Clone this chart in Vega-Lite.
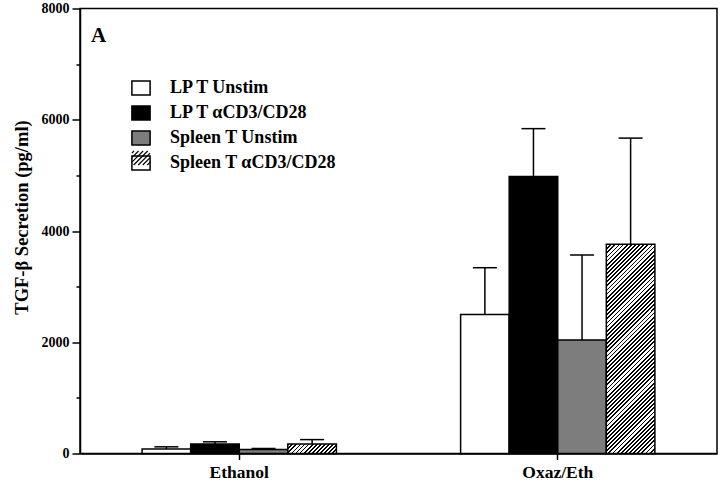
{
  "$schema": "https://vega.github.io/schema/vega-lite/v6.json",
  "width": 637,
  "height": 445,
  "autosize": {"type": "none"},
  "padding": {"left": 80, "top": 8.5, "right": 3, "bottom": 30.5},
  "background": "white",
  "title": {"text": "A", "anchor": "start", "frame": "group", "font": "Liberation Serif", "fontSize": 21, "fontWeight": "bold", "color": "black", "offset": -61, "baseline": "alphabetic", "dx": 11},
  "data": {"values": [
    {"group": "Ethanol", "cell": "LP T Unstim", "value": 80, "upper": 120},
    {"group": "Ethanol", "cell": "LP T αCD3/CD28", "value": 170, "upper": 210},
    {"group": "Ethanol", "cell": "Spleen T Unstim", "value": 70, "upper": 90},
    {"group": "Ethanol", "cell": "Spleen T αCD3/CD28", "value": 170, "upper": 250},
    {"group": "Oxaz/Eth", "cell": "LP T Unstim", "value": 2500, "upper": 3340},
    {"group": "Oxaz/Eth", "cell": "LP T αCD3/CD28", "value": 4980, "upper": 5840},
    {"group": "Oxaz/Eth", "cell": "Spleen T Unstim", "value": 2040, "upper": 3570},
    {"group": "Oxaz/Eth", "cell": "Spleen T αCD3/CD28", "value": 3760, "upper": 5670}
  ]},
  "encoding": {
    "x": {"field": "group", "type": "nominal", "sort": ["Ethanol", "Oxaz/Eth"],
      "scale": {"paddingInner": 0.39, "paddingOuter": 0.195},
      "axis": {"title": null, "labelAngle": 0, "tickSize": 6, "labelPadding": 4, "labelFontSize": 17.5}},
    "xOffset": {"field": "cell", "type": "nominal", "sort": ["LP T Unstim", "LP T αCD3/CD28", "Spleen T Unstim", "Spleen T αCD3/CD28"], "scale": {"paddingInner": 0, "paddingOuter": 0}}
  },
  "layer": [
    {
      "mark": {"type": "bar", "stroke": "black", "strokeWidth": 1.5},
      "encoding": {
        "y": {"field": "value", "type": "quantitative",
          "scale": {"domain": [0, 8000], "nice": false},
          "axis": {"title": "TGF-β Secretion (pg/ml)", "values": [0, 1000, 2000, 3000, 4000, 5000, 6000, 7000, 8000],
            "labelExpr": "datum.value % 2000 == 0 ? format(datum.value, 'd') : ''",
            "tickSize": {"condition": {"test": "datum.value % 2000 == 0", "value": 8}, "value": 4},
            "labelPadding": 3, "labelFontSize": 14, "grid": false,
            "titleX": -59, "titleY": 208.5, "titleAlign": "center", "titleBaseline": "middle", "titleAngle": -90,
            "titleFont": "Liberation Serif", "titleFontSize": 18.5, "titleFontWeight": "bold", "titleColor": "black"}},
        "fill": {
          "field": "cell", "type": "nominal",
          "scale": {"domain": ["LP T Unstim", "LP T αCD3/CD28", "Spleen T Unstim", "Spleen T αCD3/CD28"], "range": ["#ffffff", "#000000", "#7d7d7d", "#ffffff"]},
          "condition": [
            {"test": "datum.cell === 'Spleen T αCD3/CD28' && datum.group === 'Oxaz/Eth'",
             "value": {"gradient": "linear", "x1": 0, "y1": 0, "x2": 0.2716, "y2": 1.1692, "stops": [
{"offset":0,"color":"#000"},{"offset":0.007,"color":"#000"},{"offset":0.007,"color":"#fff"},{"offset":0.016,"color":"#fff"},
{"offset":0.016,"color":"#000"},{"offset":0.023,"color":"#000"},{"offset":0.023,"color":"#fff"},{"offset":0.032,"color":"#fff"},
{"offset":0.032,"color":"#000"},{"offset":0.039,"color":"#000"},{"offset":0.039,"color":"#fff"},{"offset":0.048,"color":"#fff"},
{"offset":0.048,"color":"#000"},{"offset":0.055,"color":"#000"},{"offset":0.055,"color":"#fff"},{"offset":0.064,"color":"#fff"},
{"offset":0.064,"color":"#000"},{"offset":0.071,"color":"#000"},{"offset":0.071,"color":"#fff"},{"offset":0.08,"color":"#fff"},
{"offset":0.08,"color":"#000"},{"offset":0.087,"color":"#000"},{"offset":0.087,"color":"#fff"},{"offset":0.096,"color":"#fff"},
{"offset":0.096,"color":"#000"},{"offset":0.103,"color":"#000"},{"offset":0.103,"color":"#fff"},{"offset":0.112,"color":"#fff"},
{"offset":0.112,"color":"#000"},{"offset":0.119,"color":"#000"},{"offset":0.119,"color":"#fff"},{"offset":0.128,"color":"#fff"},
{"offset":0.128,"color":"#000"},{"offset":0.135,"color":"#000"},{"offset":0.135,"color":"#fff"},{"offset":0.144,"color":"#fff"},
{"offset":0.144,"color":"#000"},{"offset":0.151,"color":"#000"},{"offset":0.151,"color":"#fff"},{"offset":0.16,"color":"#fff"},
{"offset":0.16,"color":"#000"},{"offset":0.167,"color":"#000"},{"offset":0.167,"color":"#fff"},{"offset":0.176,"color":"#fff"},
{"offset":0.176,"color":"#000"},{"offset":0.183,"color":"#000"},{"offset":0.183,"color":"#fff"},{"offset":0.192,"color":"#fff"},
{"offset":0.192,"color":"#000"},{"offset":0.199,"color":"#000"},{"offset":0.199,"color":"#fff"},{"offset":0.208,"color":"#fff"},
{"offset":0.208,"color":"#000"},{"offset":0.215,"color":"#000"},{"offset":0.215,"color":"#fff"},{"offset":0.224,"color":"#fff"},
{"offset":0.224,"color":"#000"},{"offset":0.231,"color":"#000"},{"offset":0.231,"color":"#fff"},{"offset":0.24,"color":"#fff"},
{"offset":0.24,"color":"#000"},{"offset":0.247,"color":"#000"},{"offset":0.247,"color":"#fff"},{"offset":0.256,"color":"#fff"},
{"offset":0.256,"color":"#000"},{"offset":0.263,"color":"#000"},{"offset":0.263,"color":"#fff"},{"offset":0.272,"color":"#fff"},
{"offset":0.272,"color":"#000"},{"offset":0.279,"color":"#000"},{"offset":0.279,"color":"#fff"},{"offset":0.288,"color":"#fff"},
{"offset":0.288,"color":"#000"},{"offset":0.295,"color":"#000"},{"offset":0.295,"color":"#fff"},{"offset":0.304,"color":"#fff"},
{"offset":0.304,"color":"#000"},{"offset":0.311,"color":"#000"},{"offset":0.311,"color":"#fff"},{"offset":0.32,"color":"#fff"},
{"offset":0.32,"color":"#000"},{"offset":0.327,"color":"#000"},{"offset":0.327,"color":"#fff"},{"offset":0.336,"color":"#fff"},
{"offset":0.336,"color":"#000"},{"offset":0.343,"color":"#000"},{"offset":0.343,"color":"#fff"},{"offset":0.352,"color":"#fff"},
{"offset":0.352,"color":"#000"},{"offset":0.359,"color":"#000"},{"offset":0.359,"color":"#fff"},{"offset":0.368,"color":"#fff"},
{"offset":0.368,"color":"#000"},{"offset":0.375,"color":"#000"},{"offset":0.375,"color":"#fff"},{"offset":0.384,"color":"#fff"},
{"offset":0.384,"color":"#000"},{"offset":0.391,"color":"#000"},{"offset":0.391,"color":"#fff"},{"offset":0.4,"color":"#fff"},
{"offset":0.4,"color":"#000"},{"offset":0.407,"color":"#000"},{"offset":0.407,"color":"#fff"},{"offset":0.416,"color":"#fff"},
{"offset":0.416,"color":"#000"},{"offset":0.423,"color":"#000"},{"offset":0.423,"color":"#fff"},{"offset":0.432,"color":"#fff"},
{"offset":0.432,"color":"#000"},{"offset":0.439,"color":"#000"},{"offset":0.439,"color":"#fff"},{"offset":0.448,"color":"#fff"},
{"offset":0.448,"color":"#000"},{"offset":0.455,"color":"#000"},{"offset":0.455,"color":"#fff"},{"offset":0.464,"color":"#fff"},
{"offset":0.464,"color":"#000"},{"offset":0.471,"color":"#000"},{"offset":0.471,"color":"#fff"},{"offset":0.48,"color":"#fff"},
{"offset":0.48,"color":"#000"},{"offset":0.487,"color":"#000"},{"offset":0.487,"color":"#fff"},{"offset":0.496,"color":"#fff"},
{"offset":0.496,"color":"#000"},{"offset":0.503,"color":"#000"},{"offset":0.503,"color":"#fff"},{"offset":0.512,"color":"#fff"},
{"offset":0.512,"color":"#000"},{"offset":0.519,"color":"#000"},{"offset":0.519,"color":"#fff"},{"offset":0.528,"color":"#fff"},
{"offset":0.528,"color":"#000"},{"offset":0.535,"color":"#000"},{"offset":0.535,"color":"#fff"},{"offset":0.544,"color":"#fff"},
{"offset":0.544,"color":"#000"},{"offset":0.551,"color":"#000"},{"offset":0.551,"color":"#fff"},{"offset":0.56,"color":"#fff"},
{"offset":0.56,"color":"#000"},{"offset":0.567,"color":"#000"},{"offset":0.567,"color":"#fff"},{"offset":0.576,"color":"#fff"},
{"offset":0.576,"color":"#000"},{"offset":0.583,"color":"#000"},{"offset":0.583,"color":"#fff"},{"offset":0.592,"color":"#fff"},
{"offset":0.592,"color":"#000"},{"offset":0.599,"color":"#000"},{"offset":0.599,"color":"#fff"},{"offset":0.608,"color":"#fff"},
{"offset":0.608,"color":"#000"},{"offset":0.615,"color":"#000"},{"offset":0.615,"color":"#fff"},{"offset":0.624,"color":"#fff"},
{"offset":0.624,"color":"#000"},{"offset":0.631,"color":"#000"},{"offset":0.631,"color":"#fff"},{"offset":0.64,"color":"#fff"},
{"offset":0.64,"color":"#000"},{"offset":0.647,"color":"#000"},{"offset":0.647,"color":"#fff"},{"offset":0.656,"color":"#fff"},
{"offset":0.656,"color":"#000"},{"offset":0.663,"color":"#000"},{"offset":0.663,"color":"#fff"},{"offset":0.672,"color":"#fff"},
{"offset":0.672,"color":"#000"},{"offset":0.679,"color":"#000"},{"offset":0.679,"color":"#fff"},{"offset":0.688,"color":"#fff"},
{"offset":0.688,"color":"#000"},{"offset":0.695,"color":"#000"},{"offset":0.695,"color":"#fff"},{"offset":0.704,"color":"#fff"},
{"offset":0.704,"color":"#000"},{"offset":0.711,"color":"#000"},{"offset":0.711,"color":"#fff"},{"offset":0.72,"color":"#fff"},
{"offset":0.72,"color":"#000"},{"offset":0.727,"color":"#000"},{"offset":0.727,"color":"#fff"},{"offset":0.736,"color":"#fff"},
{"offset":0.736,"color":"#000"},{"offset":0.743,"color":"#000"},{"offset":0.743,"color":"#fff"},{"offset":0.752,"color":"#fff"},
{"offset":0.752,"color":"#000"},{"offset":0.759,"color":"#000"},{"offset":0.759,"color":"#fff"},{"offset":0.768,"color":"#fff"},
{"offset":0.768,"color":"#000"},{"offset":0.775,"color":"#000"},{"offset":0.775,"color":"#fff"},{"offset":0.784,"color":"#fff"},
{"offset":0.784,"color":"#000"},{"offset":0.791,"color":"#000"},{"offset":0.791,"color":"#fff"},{"offset":0.8,"color":"#fff"},
{"offset":0.8,"color":"#000"},{"offset":0.807,"color":"#000"},{"offset":0.807,"color":"#fff"},{"offset":0.816,"color":"#fff"},
{"offset":0.816,"color":"#000"},{"offset":0.823,"color":"#000"},{"offset":0.823,"color":"#fff"},{"offset":0.832,"color":"#fff"},
{"offset":0.832,"color":"#000"},{"offset":0.839,"color":"#000"},{"offset":0.839,"color":"#fff"},{"offset":0.848,"color":"#fff"},
{"offset":0.848,"color":"#000"},{"offset":0.855,"color":"#000"},{"offset":0.855,"color":"#fff"},{"offset":0.864,"color":"#fff"},
{"offset":0.864,"color":"#000"},{"offset":0.871,"color":"#000"},{"offset":0.871,"color":"#fff"},{"offset":0.88,"color":"#fff"},
{"offset":0.88,"color":"#000"},{"offset":0.887,"color":"#000"},{"offset":0.887,"color":"#fff"},{"offset":0.896,"color":"#fff"},
{"offset":0.896,"color":"#000"},{"offset":0.903,"color":"#000"},{"offset":0.903,"color":"#fff"},{"offset":0.912,"color":"#fff"},
{"offset":0.912,"color":"#000"},{"offset":0.919,"color":"#000"},{"offset":0.919,"color":"#fff"},{"offset":0.928,"color":"#fff"},
{"offset":0.928,"color":"#000"},{"offset":0.935,"color":"#000"},{"offset":0.935,"color":"#fff"},{"offset":0.944,"color":"#fff"},
{"offset":0.944,"color":"#000"},{"offset":0.951,"color":"#000"},{"offset":0.951,"color":"#fff"},{"offset":0.96,"color":"#fff"},
{"offset":0.96,"color":"#000"},{"offset":0.967,"color":"#000"},{"offset":0.967,"color":"#fff"},{"offset":0.976,"color":"#fff"},
{"offset":0.976,"color":"#000"},{"offset":0.983,"color":"#000"},{"offset":0.983,"color":"#fff"},{"offset":0.992,"color":"#fff"},
{"offset":0.992,"color":"#000"},{"offset":0.999,"color":"#000"},{"offset":0.999,"color":"#fff"},{"offset":1,"color":"#fff"}
             ]}},
            {"test": "datum.cell === 'Spleen T αCD3/CD28' && datum.group === 'Ethanol'",
             "value": {"gradient": "linear", "x1": 0, "y1": 0, "x2": 1.151, "y2": 0.224, "stops": [
{"offset":0,"color":"#000"},{"offset":0.031,"color":"#000"},{"offset":0.031,"color":"#fff"},{"offset":0.07,"color":"#fff"},
{"offset":0.07,"color":"#000"},{"offset":0.101,"color":"#000"},{"offset":0.101,"color":"#fff"},{"offset":0.14,"color":"#fff"},
{"offset":0.14,"color":"#000"},{"offset":0.171,"color":"#000"},{"offset":0.171,"color":"#fff"},{"offset":0.21,"color":"#fff"},
{"offset":0.21,"color":"#000"},{"offset":0.241,"color":"#000"},{"offset":0.241,"color":"#fff"},{"offset":0.28,"color":"#fff"},
{"offset":0.28,"color":"#000"},{"offset":0.311,"color":"#000"},{"offset":0.311,"color":"#fff"},{"offset":0.35,"color":"#fff"},
{"offset":0.35,"color":"#000"},{"offset":0.381,"color":"#000"},{"offset":0.381,"color":"#fff"},{"offset":0.42,"color":"#fff"},
{"offset":0.42,"color":"#000"},{"offset":0.451,"color":"#000"},{"offset":0.451,"color":"#fff"},{"offset":0.49,"color":"#fff"},
{"offset":0.49,"color":"#000"},{"offset":0.521,"color":"#000"},{"offset":0.521,"color":"#fff"},{"offset":0.56,"color":"#fff"},
{"offset":0.56,"color":"#000"},{"offset":0.591,"color":"#000"},{"offset":0.591,"color":"#fff"},{"offset":0.63,"color":"#fff"},
{"offset":0.63,"color":"#000"},{"offset":0.661,"color":"#000"},{"offset":0.661,"color":"#fff"},{"offset":0.7,"color":"#fff"},
{"offset":0.7,"color":"#000"},{"offset":0.731,"color":"#000"},{"offset":0.731,"color":"#fff"},{"offset":0.77,"color":"#fff"},
{"offset":0.77,"color":"#000"},{"offset":0.801,"color":"#000"},{"offset":0.801,"color":"#fff"},{"offset":0.84,"color":"#fff"},
{"offset":0.84,"color":"#000"},{"offset":0.871,"color":"#000"},{"offset":0.871,"color":"#fff"},{"offset":0.91,"color":"#fff"},
{"offset":0.91,"color":"#000"},{"offset":0.941,"color":"#000"},{"offset":0.941,"color":"#fff"},{"offset":0.98,"color":"#fff"},
{"offset":0.98,"color":"#000"},{"offset":1,"color":"#000"}
             ]}}
          ],
          "legend": {
            "orient": "none", "legendX": 52, "legendY": 70.5, "title": null, "padding": 0,
            "symbolType": "M-1.3,-1H1.3V1H-1.3Z", "symbolSize": 196, "symbolStrokeWidth": 1.5, "symbolOpacity": 1,
            "labelFont": "Liberation Serif", "labelFontSize": 18, "labelFontWeight": "bold", "labelColor": "black", "labelLimit": 0,
            "labelOffset": 20, "rowPadding": 5
          }
        }
      }
    },
    {
      "mark": {"type": "point", "filled": false, "stroke": "black", "opacity": 0},
      "encoding": {
        "y": {"field": "value", "type": "quantitative"},
        "shape": {
          "field": "cell", "type": "nominal",
          "scale": {"domain": ["LP T Unstim", "LP T αCD3/CD28", "Spleen T Unstim", "Spleen T αCD3/CD28", "-"],
            "range": ["M0,0", "M0,0", "M0,0", "M-1.3,-0.7L-1,-1M-1.3,-0.05L-0.35,-1M-1.3,0.6L0.3,-1M-1.05,1L0.95,-1M-0.4,1L1.3,-0.7M0.25,1L1.3,-0.05M0.9,1L1.3,0.6", "M0,0"]},
          "legend": {
            "orient": "none", "legendX": 52, "legendY": 70.5, "title": null, "padding": 0,
            "symbolSize": 196, "symbolStrokeWidth": 1.2, "symbolOpacity": 1,
            "labelFont": "Liberation Serif", "labelFontSize": 18, "labelFontWeight": "bold", "labelColor": "transparent", "labelLimit": 0,
            "labelExpr": "''",
            "labelOffset": 20, "rowPadding": 5
          }
        }
      }
    },
    {
      "mark": {"type": "rule", "color": "black", "strokeWidth": 1.5},
      "encoding": {
        "y": {"field": "value", "type": "quantitative"},
        "y2": {"field": "upper"}
      }
    },
    {
      "mark": {"type": "tick", "color": "black", "size": 24, "thickness": 1.5, "opacity": 1},
      "encoding": {
        "y": {"field": "upper", "type": "quantitative"}
      }
    }
  ],
  "config": {
    "view": {"stroke": "black", "strokeWidth": 1.5},
    "axis": {"domainColor": "black", "domainWidth": 1.5, "tickColor": "black", "tickWidth": 1.5,
      "labelColor": "black", "labelFont": "Liberation Serif", "labelFontWeight": "bold", "grid": false}
  }
}
